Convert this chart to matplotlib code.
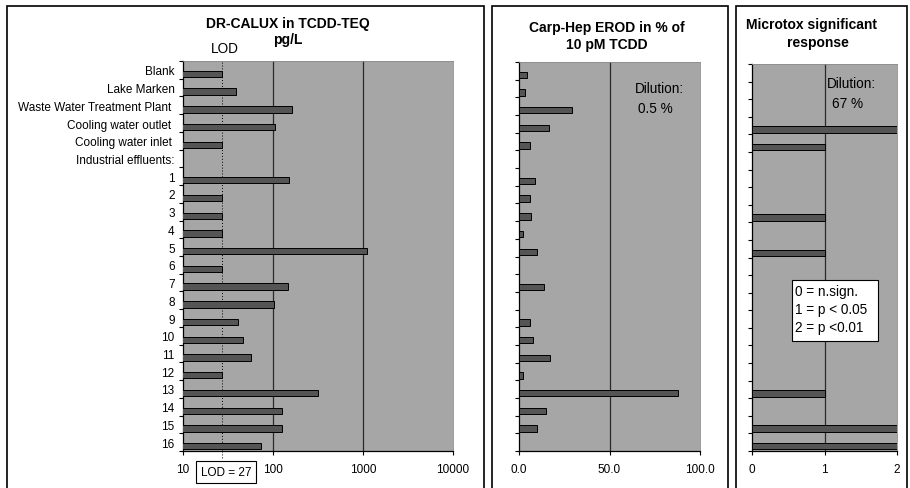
import numpy as np
import matplotlib
matplotlib.use("Agg")
import matplotlib.pyplot as plt
from matplotlib.patches import Rectangle

plt.rcParams['font.family'] = ['Liberation Sans', 'DejaVu Sans']

categories = ["Blank", "Lake Marken", "Waste Water Treatment Plant ",
              "Cooling water outlet ", "Cooling water inlet ", "Industrial effluents:",
              "1", "2", "3", "4", "5", "6", "7", "8", "9", "10", "11", "12",
              "13", "14", "15", "16"]
nan = np.nan
calux_teq = [27, 38.5, 161, 105, 27, nan, 152, 27, 27, 27, 1100, 27, 148, 102,
             40.5, 46, 56.5, 27, 313, 125, 125, 73]
erod_pct = [4.6, 3.3, 29.3, 16.4, 6.3, nan, 9.0, 6.3, 6.8, 2.2, 9.8, nan, 13.8, nan,
            6.3, 7.7, 17.2, 2.2, 87.6, 15.1, 9.8, nan]
microtox = [0, 0, 0, 2, 1, nan, 0, 0, 1, 0, 1, 0, 0, 0, 0, 0, 0, 0, 1, 0, 2, 2]
lod = 27
calux_ticks = [10, 100, 1000, 10000]
calux_ticklabels = ["10", "100", "1000", "10000"]
erod_ticks = [0, 50, 100]
erod_ticklabels = ["0.0", "50.0", "100.0"]
micro_ticks = [0, 1, 2]
micro_ticklabels = ["0", "1", "2"]

W, H = 910, 489
fig = plt.figure(figsize=(W / 100, H / 100), dpi=100)

BG = "#a6a6a6"
BAR = "#555555"
GRID = "#2a2a2a"
FS = 8.5
FT = 10
FN = 9.8


def px_axes(l, t, r, b):
    return fig.add_axes([l / W, 1 - b / H, (r - l) / W, (b - t) / H])


def ftext(x, y, s, **kw):
    kw.setdefault("va", "baseline")
    return fig.text(x / W, 1 - y / H, s, **kw)


def style(ax, xlim, ticks, ticklabels, log=False):
    n = len(categories)
    ax.set_facecolor(BG)
    if log:
        ax.set_xscale("log")
    ax.set_xlim(*xlim)
    ax.set_ylim(n, 0)
    ax.set_xticks(ticks)
    ax.set_xticklabels(ticklabels, fontsize=FS)
    ax.xaxis.set_minor_locator(matplotlib.ticker.NullLocator())
    ax.tick_params(axis="x", length=3, width=0.8, pad=6, color="black")
    ax.set_yticks(np.arange(n + 1), minor=True)
    ax.tick_params(axis="y", which="minor", length=3, width=0.8, color="black")
    ax.set_yticks(np.arange(n) + 0.5)
    ax.tick_params(axis="y", which="major", length=0, pad=6)
    ax.set_yticklabels([])
    for t in ticks[1:-1]:
        ax.axvline(t, color=GRID, lw=0.9, zorder=1)
    for s in ["top", "right"]:
        ax.spines[s].set_color("#8c8c8c")
        ax.spines[s].set_linewidth(0.6)
    for s in ["left", "bottom"]:
        ax.spines[s].set_color("black")
        ax.spines[s].set_linewidth(0.9)


def bars(ax, vals):
    y = np.arange(len(vals)) + 0.5
    v = np.asarray(vals, dtype=float)
    m = ~np.isnan(v) & (v > 0)
    ax.barh(y[m] + 0.23, v[m], height=0.36, color=BAR,
            edgecolor="black", linewidth=0.7, zorder=3)


# panel borders
for (l, r) in [(7, 484), (492, 728), (736, 907)]:
    fig.add_artist(Rectangle((l / W, -0.02), (r - l) / W, 1 - 7 / H + 0.02,
                             transform=fig.transFigure, fill=False,
                             edgecolor="black", linewidth=1.2))

# Panel 1: DR-CALUX
ax1 = px_axes(183, 62, 453, 452)
style(ax1, (10, 10000), calux_ticks, calux_ticklabels, log=True)
bars(ax1, calux_teq)
ax1.set_yticklabels(categories, fontsize=FS)
ax1.plot([lod, lod], [len(categories), 0], color="black", lw=0.7,
         linestyle=(0, (1, 2)), zorder=2)
ax1.plot([lod, lod], [len(categories), len(categories) + 0.45], color="black",
         lw=0.7, linestyle=(0, (1, 2)), clip_on=False)
ftext(226, 476, "LOD = 27", ha="center", fontsize=FS,
      bbox=dict(boxstyle="square,pad=0.4", fc="white", ec="black", lw=0.8))
ftext(225, 53, "LOD", ha="center", fontsize=FN)
ftext(288, 28, "DR-CALUX in TCDD-TEQ", ha="center", fontsize=FT, fontweight="bold")
ftext(288, 44, "pg/L", ha="center", fontsize=FT, fontweight="bold")

# Panel 2: Carp-Hep EROD
ax2 = px_axes(519, 63, 700, 452)
style(ax2, (0, 100), erod_ticks, erod_ticklabels)
bars(ax2, erod_pct)
ftext(607, 32, "Carp-Hep EROD in % of", ha="center", fontsize=FT, fontweight="bold")
ftext(607, 49, "10 pM TCDD", ha="center", fontsize=FT, fontweight="bold")
ftext(635, 93, "Dilution:", ha="left", fontsize=FN)
ftext(638, 113, "0.5 %", ha="left", fontsize=FN)

# Panel 3: Microtox
ax3 = px_axes(752, 65, 897, 452)
style(ax3, (0, 2), micro_ticks, micro_ticklabels)
bars(ax3, microtox)
ftext(812, 29, "Microtox significant", ha="center", fontsize=FT, fontweight="bold")
ftext(818, 47, "response", ha="center", fontsize=FT, fontweight="bold")
ftext(827, 88, "Dilution:", ha="left", fontsize=FN)
ftext(832, 108, "67 %", ha="left", fontsize=FN)
fig.add_artist(Rectangle((792 / W, 1 - 342 / H), (878 - 792) / W, (342 - 281) / H,
                         transform=fig.transFigure, fc="white", ec="black",
                         lw=0.8, zorder=5))
for i, s in enumerate(["0 = n.sign.", "1 = p < 0.05", "2 = p <0.01"]):
    ftext(795, 296 + 18 * i, s, ha="left", fontsize=FN, zorder=6)

fig.savefig("out.png", dpi=100)
